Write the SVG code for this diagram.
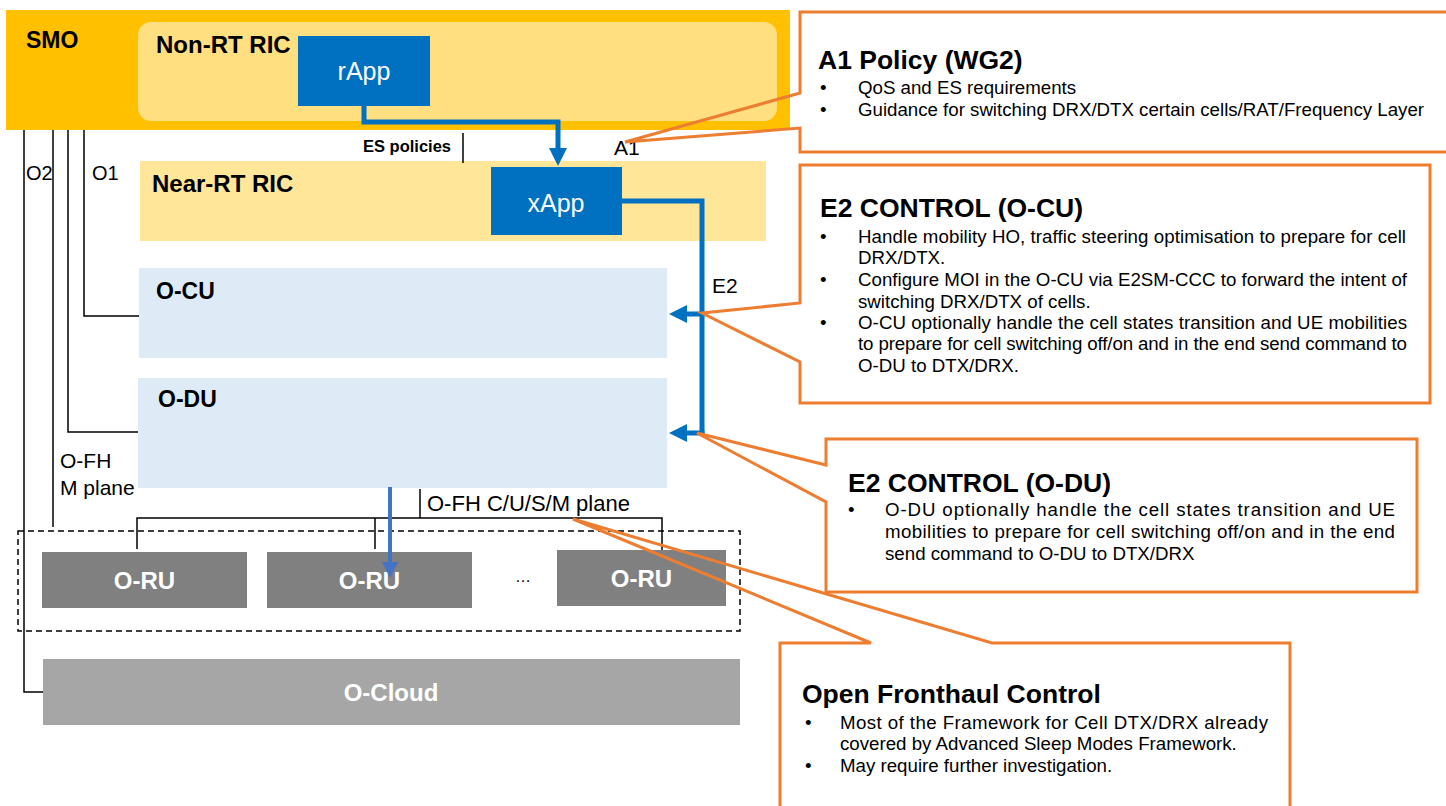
<svg xmlns="http://www.w3.org/2000/svg" width="1446" height="806" viewBox="0 0 1446 806">
  <style>
    text { font-family: "Liberation Sans", Arial, sans-serif; fill: #000; }
    .b { font-weight: bold; }
    .w { fill: #fff; }
    .mid { text-anchor: middle; }
    .lbl { font-size: 20px; }
    .ttl { font-size: 26.5px; font-weight: bold; }
    .body { font-size: 18.7px; }
    .wire { fill: none; stroke: #000; stroke-width: 1.5; }
    .e2 { fill: none; stroke: #0070C0; stroke-width: 5; }
    .fh { fill: none; stroke: #4472C4; stroke-width: 4; }
    .callout { fill: none; stroke: #ED7D31; stroke-width: 3; stroke-linejoin: miter; }
    .ru { fill: #808080; }
  </style>
  <defs>
    <marker id="arrBlue" viewBox="0 0 10 10" refX="0" refY="5" markerWidth="3.6" markerHeight="3.6" orient="auto">
      <path d="M0,0 L10,5 L0,10 z" fill="#0070C0"/>
    </marker>
    <marker id="arrFh" viewBox="0 0 10 10" refX="0" refY="5" markerWidth="5" markerHeight="4" orient="auto">
      <path d="M0,0 L10,5 L0,10 z" fill="#4472C4"/>
    </marker>
  </defs>

  <rect width="1446" height="806" fill="#fff"/>

  <!-- SMO frame with Non-RT RIC and rApp -->
  <g id="smo">
    <rect x="6" y="10" width="784" height="120" fill="#FFC000"/>
    <text class="b" x="26" y="48" font-size="23">SMO</text>
  </g>
  <g id="non-rt-ric">
    <rect x="138" y="22" width="639" height="99" rx="13" fill="#FFDF80"/>
    <text class="b" x="156" y="53" font-size="24">Non-RT RIC</text>
  </g>
  <g id="rapp">
    <rect x="298" y="36" width="132" height="70" fill="#0070C0"/>
    <text class="w mid" x="364" y="80" font-size="25">rApp</text>
  </g>

  <!-- RAN nodes -->
  <g id="near-rt-ric">
    <rect x="140" y="161" width="626" height="80" fill="#FFE699"/>
    <text class="b" x="152" y="192" font-size="24">Near-RT RIC</text>
  </g>
  <g id="xapp">
    <rect x="491" y="167" width="131" height="68" fill="#0070C0"/>
    <text class="w mid" x="556" y="212" font-size="25">xApp</text>
  </g>
  <g id="o-cu">
    <rect x="139" y="268" width="528" height="90" fill="#DEEBF7"/>
    <text class="b" x="156" y="299" font-size="23">O-CU</text>
  </g>
  <g id="o-du">
    <rect x="138" y="378" width="529" height="110" fill="#DEEBF7"/>
    <text class="b" x="158" y="407" font-size="23">O-DU</text>
  </g>
  <g id="o-ru-group">
    <rect x="18" y="531" width="722" height="100" fill="none" stroke="#000" stroke-width="1.5" stroke-dasharray="6 4"/>
  </g>
  <g id="o-ru-1">
    <rect class="ru" x="42" y="552" width="205" height="56"/>
    <text class="w b mid" x="144.5" y="589" font-size="24">O-RU</text>
  </g>
  <g id="o-ru-2">
    <rect class="ru" x="267" y="552" width="205" height="56"/>
    <text class="w b mid" x="369.5" y="589" font-size="24">O-RU</text>
  </g>
  <g id="o-ru-n">
    <rect class="ru" x="557" y="550" width="169" height="56"/>
    <text class="w b mid" x="641.5" y="587" font-size="24">O-RU</text>
  </g>
  <text class="mid" x="523" y="582" font-size="16">…</text>
  <g id="o-cloud">
    <rect x="43" y="659" width="697" height="66" fill="#A6A6A6"/>
    <text class="w b mid" x="391" y="701" font-size="24">O-Cloud</text>
  </g>

  <!-- Interfaces -->
  <g id="connectors">
    <!-- O2 to O-Cloud -->
    <path class="wire" d="M24 130 V692 H43"/>
    <!-- O-FH M plane -->
    <path class="wire" d="M53 130 V527"/>
    <!-- O1 to O-DU and O-CU -->
    <path class="wire" d="M68 130 V432 H138"/>
    <path class="wire" d="M84 130 V316 H139"/>
    <!-- ES policies tick -->
    <path class="wire" d="M463 133 V163"/>
    <!-- O-FH C/U/S/M plane fan-out -->
    <path class="wire" d="M420 489 V518"/>
    <path class="wire" d="M137 549 V518 H662 V550"/>
    <path class="wire" d="M375 518 V549"/>

    <!-- A1: rApp to xApp -->
    <path class="e2" d="M364 106 V122 H558 V148" marker-end="url(#arrBlue)"/>
    <!-- E2: xApp to O-CU / O-DU -->
    <path class="e2" d="M622 201 H702 V435.5"/>
    <path class="e2" d="M704.5 314 H687" marker-end="url(#arrBlue)"/>
    <path class="e2" d="M704.5 433 H687" marker-end="url(#arrBlue)"/>
    <!-- O-DU to O-RU -->
    <path class="fh" d="M390 487 V562" marker-end="url(#arrFh)"/>
  </g>

  <!-- Interface labels -->
  <g id="labels">
    <text class="lbl" x="26" y="180">O2</text>
    <text class="lbl" x="92" y="180">O1</text>
    <text class="b" x="363" y="152" font-size="16.5">ES policies</text>
    <text x="614" y="155" font-size="21">A1</text>
    <text x="712" y="293" font-size="21">E2</text>
    <text x="60" y="468" font-size="21">O-FH</text>
    <text x="60" y="495" font-size="21">M plane</text>
    <text x="427" y="511" font-size="22">O-FH C/U/S/M plane</text>
  </g>

  <!-- Call-out: A1 policy -->
  <g id="callout-a1">
    <path class="callout" d="M800 93 V12 H1452 V152 H800 V128 L625 142 Z"/>
    <text class="ttl" x="818" y="69">A1 Policy (WG2)</text>
    <text class="body" x="820" y="94">•</text>
    <text class="body" x="858" y="94">QoS and ES requirements</text>
    <text class="body" x="820" y="116">•</text>
    <text class="body" x="858" y="116" textLength="566" lengthAdjust="spacing">Guidance for switching DRX/DTX certain cells/RAT/Frequency Layer</text>
  </g>

  <!-- Call-out: E2 control of the O-CU -->
  <g id="callout-e2-ocu">
    <path class="callout" d="M800 303 V165 H1430 V403 H800 V362 L702 313 Z"/>
    <text class="ttl" x="820" y="217">E2 CONTROL (O-CU)</text>
    <text class="body" x="820" y="243">•</text>
    <text class="body" x="858" y="243" textLength="548" lengthAdjust="spacing">Handle mobility HO, traffic steering optimisation to prepare for cell</text>
    <text class="body" x="858" y="264">DRX/DTX.</text>
    <text class="body" x="820" y="286">•</text>
    <text class="body" x="858" y="286" textLength="549" lengthAdjust="spacing">Configure MOI in the O-CU via E2SM-CCC to forward the intent of</text>
    <text class="body" x="858" y="308">switching DRX/DTX of cells.</text>
    <text class="body" x="820" y="329">•</text>
    <text class="body" x="858" y="329" textLength="549" lengthAdjust="spacing">O-CU optionally handle the cell states transition and UE mobilities</text>
    <text class="body" x="858" y="350" textLength="549" lengthAdjust="spacing">to prepare for cell switching off/on and in the end send command to</text>
    <text class="body" x="858" y="372">O-DU to DTX/DRX.</text>
  </g>

  <!-- Call-out: E2 control of the O-DU -->
  <g id="callout-e2-odu">
    <path class="callout" d="M826 465 V439 H1417 V592 H826 V502 L697 433 Z"/>
    <text class="ttl" x="848" y="492">E2 CONTROL (O-DU)</text>
    <text class="body" x="848" y="516">•</text>
    <text class="body" x="885" y="516" textLength="510" lengthAdjust="spacing">O-DU optionally handle the cell states transition and UE</text>
    <text class="body" x="885" y="538" textLength="510" lengthAdjust="spacing">mobilities to prepare for cell switching off/on and in the end</text>
    <text class="body" x="885" y="560">send command to O-DU to DTX/DRX</text>
  </g>

  <!-- Call-out: Open Fronthaul control -->
  <g id="callout-ofh">
    <path class="callout" d="M871 643 L573 519 L992 643 H1290 V812 H780 V643 Z"/>
    <text class="ttl" x="802" y="703">Open Fronthaul Control</text>
    <text class="body" x="805" y="729">•</text>
    <text class="body" x="840" y="729" textLength="428" lengthAdjust="spacing">Most of the Framework for Cell DTX/DRX already</text>
    <text class="body" x="840" y="750">covered by Advanced Sleep Modes Framework.</text>
    <text class="body" x="805" y="772">•</text>
    <text class="body" x="840" y="772">May require further investigation.</text>
  </g>
</svg>
